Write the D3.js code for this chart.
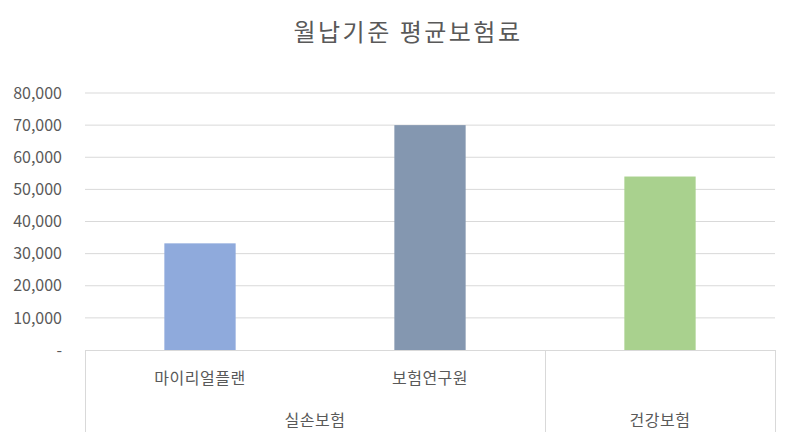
<!DOCTYPE html>
<html>
<head>
<meta charset="utf-8">
<script src="https://cdn.jsdelivr.net/npm/d3@7"></script>
<style>
  body { margin: 0; background: #fff; }
  svg { display: block; font-family: "Noto Sans CJK KR", "Noto Sans", sans-serif; }
</style>
</head>
<body>
<div id="chart"></div>
<script>
// chart data
const title = "월납기준 평균보험료";
const items = ["마이리얼플랜", "보험연구원", ""];
const groups = ["실손보험", "실손보험", "건강보험"];
const values = [33200, 70000, 54000];
const colors = ["#8faadc", "#8497b0", "#a9d18e"];
const yTicks = [0, 10000, 20000, 30000, 40000, 50000, 60000, 70000, 80000];

const W = 800, H = 442;
const margin = { top: 93, right: 25, bottom: 92, left: 85 };
const width = W - margin.left - margin.right;
const height = H - margin.top - margin.bottom;
const textColor = "#595959";
const lineColor = "#d9d9d9";

const svg = d3.select("#chart").append("svg")
  .attr("width", W)
  .attr("height", H);

svg.append("text")
  .attr("x", W / 2 + 8)
  .attr("y", 41)
  .attr("text-anchor", "middle")
  .attr("fill", textColor)
  .style("font-size", "24px")
  .style("letter-spacing", "2.5px")
  .text(title);

const g = svg.append("g")
  .attr("transform", "translate(" + margin.left + "," + margin.top + ")");

const idx = d3.range(items.length);
const x = d3.scaleBand().domain(idx).range([0, width]).paddingInner(0.69).paddingOuter(0.345);
const y = d3.scaleLinear().domain([0, 80000]).range([height, 0]);

// gridlines
g.selectAll(".grid").data(yTicks.slice(1)).enter().append("line")
  .attr("class", "grid")
  .attr("x1", 0).attr("x2", width)
  .attr("y1", d => y(d)).attr("y2", d => y(d))
  .attr("stroke", lineColor).attr("stroke-width", 1);

// y axis labels
const yAxis = d3.axisLeft(y).tickValues(yTicks)
  .tickFormat(d => d === 0 ? "-" : d3.format(",")(d))
  .tickSize(0).tickPadding(23);
const ya = g.append("g").call(yAxis);
ya.select(".domain").remove();
ya.selectAll("text").attr("fill", textColor).style("font-size", "16px")
  .style("font-family", "\"Noto Sans CJK KR\", sans-serif");

// bars
g.selectAll(".bar").data(values).enter().append("rect")
  .attr("class", "bar")
  .attr("x", (d, i) => x(i))
  .attr("width", x.bandwidth())
  .attr("y", d => y(d))
  .attr("height", d => height - y(d))
  .attr("fill", (d, i) => colors[i]);

// category axis (two levels)
const step = x.step();
const axisBottom = height + 82;
g.append("line")
  .attr("x1", 0).attr("x2", width)
  .attr("y1", height + 0.5).attr("y2", height + 0.5)
  .attr("stroke", lineColor);

// group spans
const spans = [];
groups.forEach((grp, i) => {
  const last = spans[spans.length - 1];
  if (last && last.name === grp) last.end = i;
  else spans.push({ name: grp, start: i, end: i });
});

const bounds = [0];
spans.forEach(s => bounds.push((s.end + 1) * step));
g.selectAll(".sep").data(bounds).enter().append("line")
  .attr("class", "sep")
  .attr("x1", d => Math.round(d) + 0.5).attr("x2", d => Math.round(d) + 0.5)
  .attr("y1", height).attr("y2", axisBottom)
  .attr("stroke", lineColor);

g.selectAll(".item").data(idx).enter().append("text")
  .attr("class", "item")
  .attr("x", d => x(d) + x.bandwidth() / 2)
  .attr("y", height + 34)
  .attr("text-anchor", "middle")
  .attr("fill", textColor)
  .style("font-size", "16px")
  .style("letter-spacing", "0.5px")
  .text(d => items[d]);

g.selectAll(".group").data(spans).enter().append("text")
  .attr("class", "group")
  .attr("x", d => (d.start + d.end + 1) * step / 2)
  .attr("y", height + 76)
  .attr("text-anchor", "middle")
  .attr("fill", textColor)
  .style("font-size", "16px")
  .style("letter-spacing", "0.5px")
  .text(d => d.name);
</script>
</body>
</html>
